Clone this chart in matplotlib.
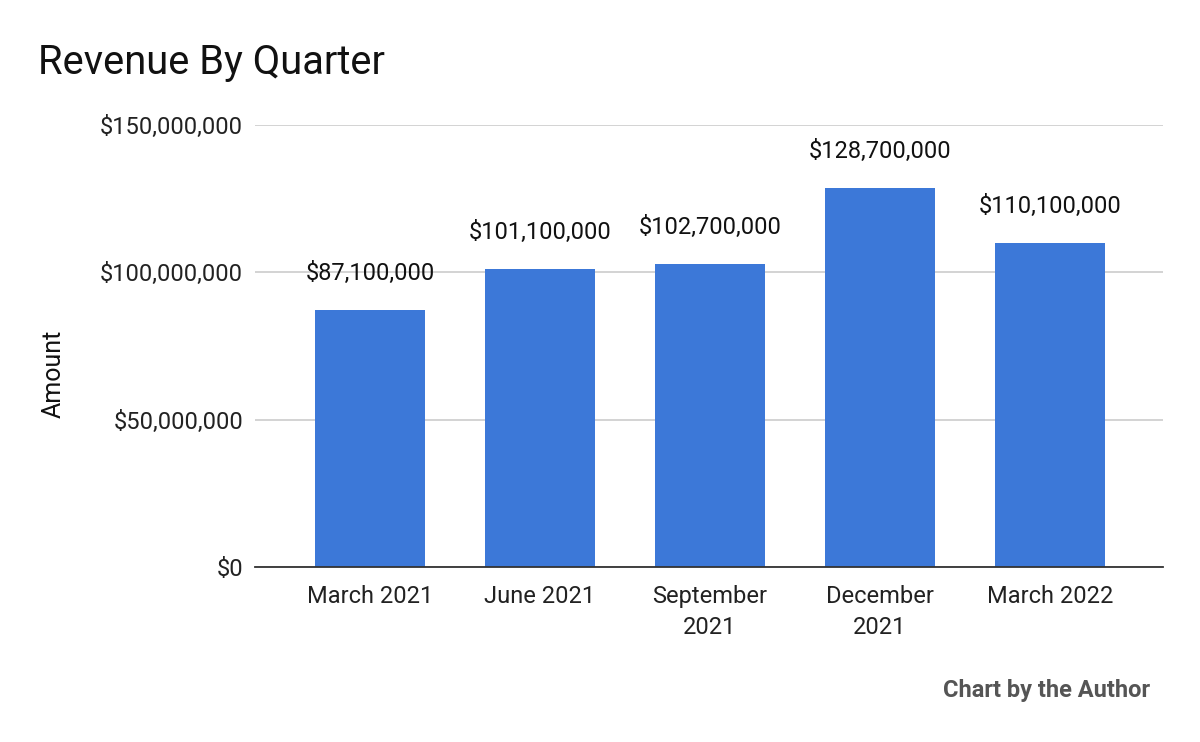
import matplotlib.pyplot as plt
from matplotlib.ticker import FuncFormatter

plt.rcParams['font.family'] = ['Roboto', 'DejaVu Sans']

quarters = ["March 2021", "June 2021", "September\n2021", "December\n2021", "March 2022"]
revenue = [87100000, 101100000, 102700000, 128700000, 110100000]
y_ticks = [0, 50000000, 100000000, 150000000]

fig = plt.figure(figsize=(12, 7.42), dpi=100)
ax = fig.add_axes([0.2125, 0.2358, 0.7567, 0.5957])

xs = list(range(len(quarters)))
bars = ax.bar(xs, revenue, width=0.647, color="#3c78d8", zorder=3)

for x, v in zip(xs, revenue):
    ax.text(x, v + 8500000, f"${v:,.0f}", ha="center", va="bottom",
            fontsize=17, color="#111111")

ax.set_xlim(-0.676, 4.665)
ax.set_ylim(0, 150000000)
ax.set_yticks(y_ticks)
ax.yaxis.set_major_formatter(FuncFormatter(lambda v, p: f"${v:,.0f}"))
ax.set_xticks(xs)
ax.set_xticklabels(quarters, fontsize=17, color="#222222", linespacing=1.45)
ax.tick_params(axis="y", labelsize=17, labelcolor="#222222", length=0, pad=8.5)
ax.tick_params(axis="x", length=0, pad=13)

ax.grid(axis="y", color="#cccccc", linewidth=1.2, zorder=0)
for s in ["top", "right", "left"]:
    ax.spines[s].set_visible(False)
ax.spines["bottom"].set_color("#333333")
ax.spines["bottom"].set_linewidth(1.3)
ax.spines["bottom"].set_zorder(4)

ax.set_ylabel("Amount", fontsize=18, color="#111111")
ax.yaxis.set_label_coords(-0.2085, 0.437)

fig.text(38 / 1200, 1 - 62 / 742, "Revenue By Quarter", fontsize=28.7,
         color="#111111", ha="left", va="center")
fig.text(1150 / 1200, 1 - 691 / 742, "Chart by the Author", fontsize=17,
         fontweight="bold", color="#555555", ha="right", va="center")

fig.savefig("out.png", dpi=100)
